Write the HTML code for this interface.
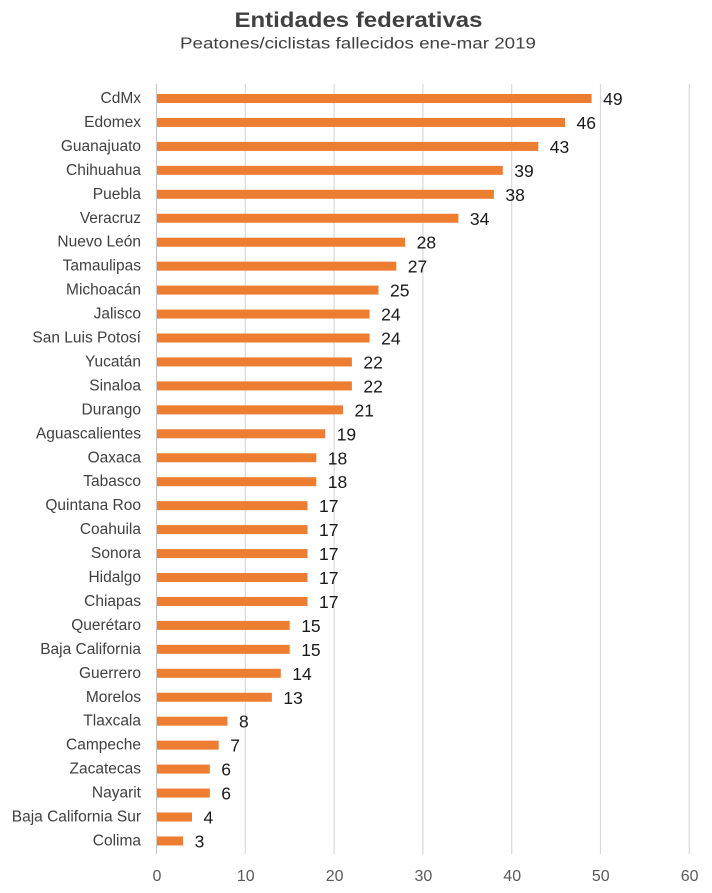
<!DOCTYPE html>
<html><head><meta charset="utf-8"><style>
html,body{margin:0;padding:0;background:#fff;}
svg{display:block;}
.cat{font-family:"Liberation Sans",sans-serif;font-size:15.5px;fill:#404040;text-anchor:end;}
.val{font-family:"Liberation Sans",sans-serif;font-size:17.5px;fill:#1a1a1a;}
.tick{font-family:"Liberation Sans",sans-serif;font-size:16px;fill:#595959;text-anchor:middle;}
</style></head><body>
<svg width="712" height="893" viewBox="0 0 712 893" xmlns="http://www.w3.org/2000/svg">
<rect width="712" height="893" fill="#fff"/>
<text x="358.5" y="27" text-anchor="middle" font-family="Liberation Sans, sans-serif" font-weight="bold" font-size="21.5" fill="#404040" textLength="248" lengthAdjust="spacingAndGlyphs">Entidades federativas</text>
<text x="358" y="48.5" text-anchor="middle" font-family="Liberation Sans, sans-serif" font-size="15.5" fill="#404040" textLength="356" lengthAdjust="spacingAndGlyphs">Peatones/ciclistas fallecidos ene-mar 2019</text>
<g stroke="#d9d9d9" stroke-width="1.2">
<line x1="245.3" y1="84" x2="245.3" y2="854"/>
<line x1="334.1" y1="84" x2="334.1" y2="854"/>
<line x1="422.9" y1="84" x2="422.9" y2="854"/>
<line x1="511.7" y1="84" x2="511.7" y2="854"/>
<line x1="600.5" y1="84" x2="600.5" y2="854"/>
<line x1="689.3" y1="84" x2="689.3" y2="854"/>
</g>
<line x1="156.5" y1="84" x2="156.5" y2="854" stroke="#c8c8c8" stroke-width="1.2"/>
<g fill="#ED7D31">
<rect x="157" y="94" width="434.6" height="9"/>
<rect x="157" y="117.95" width="408" height="9"/>
<rect x="157" y="141.9" width="381.3" height="9"/>
<rect x="157" y="165.85" width="345.8" height="9"/>
<rect x="157" y="189.8" width="336.9" height="9"/>
<rect x="157" y="213.75" width="301.4" height="9"/>
<rect x="157" y="237.7" width="248.1" height="9"/>
<rect x="157" y="261.65" width="239.3" height="9"/>
<rect x="157" y="285.6" width="221.5" height="9"/>
<rect x="157" y="309.55" width="212.6" height="9"/>
<rect x="157" y="333.5" width="212.6" height="9"/>
<rect x="157" y="357.45" width="194.9" height="9"/>
<rect x="157" y="381.4" width="194.9" height="9"/>
<rect x="157" y="405.35" width="186" height="9"/>
<rect x="157" y="429.3" width="168.2" height="9"/>
<rect x="157" y="453.25" width="159.3" height="9"/>
<rect x="157" y="477.2" width="159.3" height="9"/>
<rect x="157" y="501.15" width="150.5" height="9"/>
<rect x="157" y="525.1" width="150.5" height="9"/>
<rect x="157" y="549.05" width="150.5" height="9"/>
<rect x="157" y="573" width="150.5" height="9"/>
<rect x="157" y="596.95" width="150.5" height="9"/>
<rect x="157" y="620.9" width="132.7" height="9"/>
<rect x="157" y="644.85" width="132.7" height="9"/>
<rect x="157" y="668.8" width="123.8" height="9"/>
<rect x="157" y="692.75" width="114.9" height="9"/>
<rect x="157" y="716.7" width="70.5" height="9"/>
<rect x="157" y="740.65" width="61.7" height="9"/>
<rect x="157" y="764.6" width="52.8" height="9"/>
<rect x="157" y="788.55" width="52.8" height="9"/>
<rect x="157" y="812.5" width="35" height="9"/>
<rect x="157" y="836.45" width="26.1" height="9"/>
</g>
<g class="cat">
<text x="141" y="103">CdMx</text>
<text x="141" y="126.95">Edomex</text>
<text x="141" y="150.9">Guanajuato</text>
<text x="141" y="174.85">Chihuahua</text>
<text x="141" y="198.8">Puebla</text>
<text x="141" y="222.75">Veracruz</text>
<text x="141" y="246.7">Nuevo León</text>
<text x="141" y="270.65">Tamaulipas</text>
<text x="141" y="294.6">Michoacán</text>
<text x="141" y="318.55">Jalisco</text>
<text x="141" y="342.5">San Luis Potosí</text>
<text x="141" y="366.45">Yucatán</text>
<text x="141" y="390.4">Sinaloa</text>
<text x="141" y="414.35">Durango</text>
<text x="141" y="438.3">Aguascalientes</text>
<text x="141" y="462.25">Oaxaca</text>
<text x="141" y="486.2">Tabasco</text>
<text x="141" y="510.15">Quintana Roo</text>
<text x="141" y="534.1">Coahuila</text>
<text x="141" y="558.05">Sonora</text>
<text x="141" y="582">Hidalgo</text>
<text x="141" y="605.95">Chiapas</text>
<text x="141" y="629.9">Querétaro</text>
<text x="141" y="653.85">Baja California</text>
<text x="141" y="677.8">Guerrero</text>
<text x="141" y="701.75">Morelos</text>
<text x="141" y="725.7">Tlaxcala</text>
<text x="141" y="749.65">Campeche</text>
<text x="141" y="773.6">Zacatecas</text>
<text x="141" y="797.55">Nayarit</text>
<text x="141" y="821.5">Baja California Sur</text>
<text x="141" y="845.45">Colima</text>
</g>
<g class="val">
<text x="603.1" y="105">49</text>
<text x="576.5" y="128.95">46</text>
<text x="549.8" y="152.9">43</text>
<text x="514.3" y="176.85">39</text>
<text x="505.4" y="200.8">38</text>
<text x="469.9" y="224.75">34</text>
<text x="416.6" y="248.7">28</text>
<text x="407.8" y="272.65">27</text>
<text x="390" y="296.6">25</text>
<text x="381.1" y="320.55">24</text>
<text x="381.1" y="344.5">24</text>
<text x="363.4" y="368.45">22</text>
<text x="363.4" y="392.4">22</text>
<text x="354.5" y="416.35">21</text>
<text x="336.7" y="440.3">19</text>
<text x="327.8" y="464.25">18</text>
<text x="327.8" y="488.2">18</text>
<text x="319" y="512.15">17</text>
<text x="319" y="536.1">17</text>
<text x="319" y="560.05">17</text>
<text x="319" y="584">17</text>
<text x="319" y="607.95">17</text>
<text x="301.2" y="631.9">15</text>
<text x="301.2" y="655.85">15</text>
<text x="292.3" y="679.8">14</text>
<text x="283.4" y="703.75">13</text>
<text x="239" y="727.7">8</text>
<text x="230.2" y="751.65">7</text>
<text x="221.3" y="775.6">6</text>
<text x="221.3" y="799.55">6</text>
<text x="203.5" y="823.5">4</text>
<text x="194.6" y="847.45">3</text>
</g>
<g class="tick">
<text x="157" y="881">0</text>
<text x="245.8" y="881">10</text>
<text x="334.6" y="881">20</text>
<text x="423.4" y="881">30</text>
<text x="512.2" y="881">40</text>
<text x="600.8" y="881">50</text>
<text x="689.6" y="881">60</text>
</g>
</svg>
</body></html>
